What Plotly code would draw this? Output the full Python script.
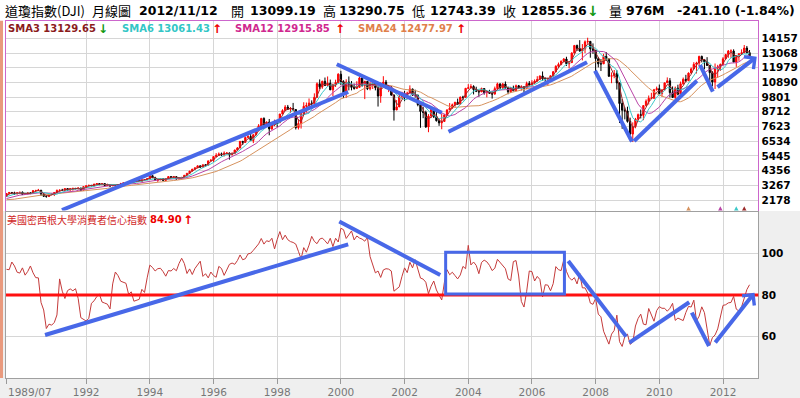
import numpy as np
import pandas as pd
import plotly.graph_objects as go

# ---------------- data ----------------
first_month = "1989/07"
# closes before the first drawn candle (1987/08 .. 1989/06), used only to warm up the SMAs
pre_close = [2663, 2596, 1994, 1834, 1939, 1958, 2072, 1988, 2032, 2031, 2142, 2129,
             2032, 2113, 2149, 2115, 2169, 2342, 2258, 2294, 2419, 2480, 2440]

dji_close = [
    2661, 2737, 2692, 2645, 2706, 2753,
    2591, 2627, 2707, 2657, 2877, 2881, 2905, 2614, 2453, 2442, 2560, 2634,
    2736, 2882, 2914, 2888, 3028, 2907, 3025, 3044, 3017, 3069, 2895, 3169,
    3224, 3268, 3236, 3359, 3397, 3319, 3394, 3257, 3272, 3226, 3305, 3301,
    3310, 3371, 3435, 3428, 3528, 3516, 3540, 3651, 3555, 3681, 3684, 3754,
    3978, 3832, 3636, 3682, 3758, 3625, 3765, 3913, 3843, 3908, 3739, 3834,
    3844, 4011, 4158, 4321, 4465, 4556, 4709, 4611, 4789, 4756, 5075, 5117,
    5395, 5486, 5588, 5569, 5643, 5655, 5529, 5616, 5882, 6029, 6522, 6448,
    6813, 6878, 6584, 7009, 7331, 7673, 8223, 7622, 7945, 7442, 7823, 7908,
    7907, 8546, 8800, 9063, 8900, 8952, 8883, 7539, 7843, 8592, 9117, 9181,
    9359, 9307, 9786, 10789, 10560, 10971, 10655, 10829, 10337, 10730, 10878, 11497,
    10940, 10128, 10922, 10734, 10522, 10448, 10522, 11215, 10651, 10971, 10415, 10787,
    10887, 10495, 9879, 10735, 10912, 10502, 10523, 9950, 8848, 9075, 9852, 10022,
    9920, 10106, 10404, 9946, 9925, 9243, 8737, 8664, 7592, 8397, 8896, 8342,
    8054, 7891, 7992, 8480, 8850, 8985, 9234, 9416, 9275, 9801, 9782, 10454,
    10488, 10584, 10358, 10226, 10188, 10435, 10140, 10174, 10080, 10027, 10428, 10783,
    10490, 10766, 10504, 10193, 10467, 10275, 10641, 10482, 10569, 10440, 10806, 10718,
    10865, 10993, 11109, 11367, 11168, 11150, 11186, 11381, 11679, 12081, 12222, 12463,
    12622, 12269, 12354, 13063, 13628, 13409, 13212, 13358, 13896, 13930, 13372, 13265,
    12650, 12266, 12263, 12820, 12638, 11350, 11378, 11544, 10851, 9325, 8829, 8776,
    8001, 7063, 7609, 8168, 8500, 8447, 9172, 9496, 9712, 9713, 10345, 10428,
    10067, 10325, 10857, 11009, 10137, 9774, 10466, 10015, 10788, 11118, 11006, 11578,
    11892, 12226, 12320, 12811, 12570, 12414, 12143, 11614, 10913, 11955, 12046, 12218,
    12633, 12952, 13212, 13214, 12393, 12880, 13009, 13091, 13437, 13096, 12855.36,
]
dji_high = [
    2670, 2752, 2762, 2791, 2712, 2761,
    2810, 2650, 2740, 2765, 2880, 2935, 3000, 2900, 2660, 2530, 2565, 2660,
    2740, 2960, 2930, 3005, 3030, 3050, 3030, 3060, 3055, 3080, 3065, 3175,
    3270, 3290, 3290, 3370, 3410, 3415, 3420, 3400, 3390, 3290, 3310, 3340,
    3330, 3450, 3490, 3480, 3560, 3560, 3570, 3660, 3650, 3700, 3720, 3800,
    3990, 3990, 3900, 3720, 3780, 3780, 3780, 3930, 3950, 3950, 3900, 3870,
    3900, 4020, 4170, 4330, 4470, 4600, 4730, 4650, 4800, 4790, 5100, 5220,
    5400, 5650, 5700, 5690, 5780, 5720, 5700, 5720, 5900, 6100, 6550, 6560,
    6880, 7080, 7110, 7050, 7390, 7800, 8260, 8300, 8000, 8180, 7880, 8130,
    7980, 8560, 8900, 9210, 9220, 9070, 9370, 8880, 8160, 8650, 9420, 9400,
    9700, 9560, 10080, 10890, 11110, 11010, 11250, 11330, 11100, 10800, 11090, 11570,
    11750, 11050, 11120, 11330, 10990, 10800, 10980, 11330, 11400, 11000, 11000, 10900,
    10990, 10980, 10650, 10900, 11350, 11070, 10700, 10620, 10000, 9580, 9990, 10200,
    10260, 10200, 10670, 10420, 10350, 10000, 9420, 9080, 8800, 8540, 9050, 9040,
    8870, 8170, 8590, 8560, 8900, 9360, 9320, 9450, 9690, 9840, 9900, 10470,
    10760, 10760, 10680, 10570, 10340, 10500, 10430, 10240, 10340, 10240, 10580, 10870,
    10800, 10850, 10960, 10580, 10550, 10650, 10730, 10700, 10680, 10570, 10950, 10990,
    11050, 11110, 11350, 11400, 11700, 11250, 11250, 11400, 11730, 12160, 12360, 12510,
    12690, 12790, 12480, 13120, 13640, 13690, 14020, 13730, 14000, 14200, 13940, 13780,
    13280, 12770, 12620, 13010, 13140, 12660, 11630, 11810, 11790, 10880, 9650, 9030,
    9090, 8280, 7930, 8260, 8580, 8880, 9200, 9630, 9920, 10120, 10410, 10580,
    10730, 10400, 10860, 11260, 11210, 10590, 10580, 10720, 10950, 11250, 11450, 11630,
    11990, 12390, 12420, 12870, 12880, 12620, 12760, 12190, 11720, 12290, 12190, 12290,
    12760, 13000, 13290, 13340, 13340, 12900, 13060, 13340, 13660, 13590, 13290.75,
]
dji_low = [
    2437, 2640, 2660, 2569, 2582, 2685,
    2543, 2560, 2620, 2612, 2650, 2840, 2840, 2480, 2400, 2345, 2420, 2540,
    2470, 2720, 2850, 2860, 2850, 2900, 2910, 2870, 2980, 2950, 2840, 2860,
    3140, 3200, 3200, 3180, 3330, 3280, 3280, 3240, 3250, 3140, 3210, 3260,
    3240, 3290, 3360, 3360, 3430, 3490, 3460, 3540, 3530, 3560, 3630, 3680,
    3750, 3800, 3590, 3520, 3640, 3620, 3620, 3760, 3830, 3780, 3670, 3690,
    3800, 3850, 3990, 4140, 4280, 4420, 4540, 4550, 4610, 4640, 4740, 5050,
    5000, 5360, 5440, 5430, 5400, 5580, 5170, 5500, 5590, 5850, 6010, 6250,
    6430, 6760, 6570, 6390, 6970, 7250, 7600, 7620, 7600, 6970, 7380, 7650,
    7580, 7880, 8530, 8780, 8840, 8630, 8850, 7400, 7400, 7470, 8570, 8650,
    9100, 9100, 9300, 9730, 10400, 10420, 10640, 10590, 10330, 9880, 10550, 10830,
    10700, 9730, 9730, 10300, 10300, 10350, 10400, 10600, 10580, 9650, 10320, 10300,
    10400, 10300, 9100, 9380, 10620, 10400, 10170, 9900, 8060, 8840, 9130, 9690,
    9500, 9640, 10100, 9900, 9760, 9120, 7530, 8240, 7520, 7200, 8250, 8250,
    7990, 7670, 7420, 7990, 8420, 8850, 8950, 9080, 9260, 9360, 9560, 9730,
    10400, 10460, 10000, 10170, 9820, 10190, 9980, 9780, 10040, 9690, 9980, 10390,
    10360, 10370, 10400, 10010, 10100, 10230, 10240, 10400, 10280, 10150, 10390, 10680,
    10660, 10780, 10950, 11100, 11000, 10700, 10680, 11060, 11300, 11650, 11950, 12160,
    12360, 12110, 11930, 12350, 13030, 13220, 13170, 12520, 13060, 13750, 12720, 13000,
    11630, 12000, 11730, 12260, 12480, 11290, 10830, 11200, 10360, 7880, 7450, 8150,
    7910, 7000, 6470, 7490, 8090, 8220, 8090, 9120, 9250, 9670, 9680, 10280,
    10040, 9830, 10320, 10850, 9770, 9740, 9610, 9930, 10010, 10710, 10930, 11000,
    11600, 11930, 11550, 12090, 12370, 11860, 12130, 10600, 10600, 10400, 11230, 11740,
    12210, 12630, 12710, 12710, 12390, 12040, 12490, 12990, 13060, 13040, 12743.39,
]
sentiment = [
    92.3, 92.1, 95.8, 93.9, 90.9, 90.5,
    93.0, 89.5, 91.3, 93.9, 90.6, 88.3, 88.2, 76.4, 72.8, 63.9, 66.0, 65.5,
    66.8, 70.4, 87.7, 81.8, 78.3, 82.1, 82.9, 82.0, 83.0, 78.3, 69.1, 68.2,
    67.5, 68.8, 76.0, 77.2, 79.2, 80.4, 76.6, 76.1, 75.6, 73.3, 85.3, 91.0,
    89.3, 86.6, 85.9, 85.6, 80.3, 81.5, 77.0, 77.3, 77.9, 82.7, 81.2, 88.2,
    94.3, 93.2, 91.5, 92.6, 92.8, 91.2, 89.0, 91.7, 91.5, 92.7, 91.6, 95.1,
    97.6, 95.1, 90.3, 92.5, 89.8, 92.7, 94.4, 96.2, 88.9, 90.2, 88.2, 91.0,
    89.3, 88.5, 93.7, 92.7, 89.4, 92.4, 94.7, 95.3, 94.7, 96.5, 99.2, 96.9,
    97.4, 99.7, 100.0, 101.4, 103.2, 104.5, 107.1, 104.4, 106.0, 105.6, 107.2, 102.1,
    106.6, 110.4, 106.5, 108.7, 106.5, 105.6, 105.2, 104.4, 100.9, 97.4, 102.7, 100.5,
    103.9, 108.1, 105.7, 104.6, 106.8, 107.3, 106.0, 104.5, 107.2, 103.2, 107.2, 105.4,
    112.0, 111.3, 107.1, 109.2, 110.7, 106.4, 108.3, 107.3, 106.8, 105.8, 107.6, 98.4,
    94.7, 90.6, 91.5, 88.4, 92.0, 92.6, 92.4, 91.5, 81.8, 82.7, 83.9, 88.8,
    93.0, 90.7, 95.7, 93.0, 96.9, 92.4, 88.1, 87.6, 86.1, 80.6, 84.2, 86.7,
    82.4, 79.9, 77.6, 86.0, 92.1, 89.7, 90.9, 89.3, 87.7, 89.6, 93.7, 92.6,
    103.8, 94.4, 95.8, 94.2, 90.2, 95.6, 96.7, 95.9, 94.2, 91.7, 92.8, 97.1,
    95.5, 94.1, 92.6, 87.7, 86.9, 96.0, 96.5, 89.1, 76.9, 74.2, 81.6, 91.5,
    91.2, 86.7, 88.9, 87.4, 79.1, 84.9, 84.7, 82.0, 85.4, 93.6, 92.1, 91.7,
    96.9, 91.3, 88.4, 87.1, 88.3, 85.3, 90.4, 83.4, 83.4, 80.9, 76.1, 75.5,
    78.4, 70.8, 69.5, 62.6, 59.8, 56.4, 61.2, 63.0, 70.3, 57.6, 55.3, 60.1,
    61.2, 56.3, 57.3, 65.1, 68.7, 70.8, 66.0, 65.7, 73.5, 70.6, 67.4, 72.5,
    74.4, 73.6, 73.6, 72.2, 73.6, 76.0, 67.8, 68.9, 68.2, 67.7, 71.6, 74.5,
    74.2, 77.5, 67.5, 69.8, 74.3, 71.5, 63.7, 55.8, 59.5, 60.8, 63.7, 69.9,
    75.0, 75.3, 76.2, 76.4, 79.3, 73.2, 72.3, 74.3, 78.3, 82.6, 84.9,
]
x_tick_labels = ["1989/07", "1992", "1994", "1996", "1998", "2000", "2002",
                 "2004", "2006", "2008", "2010", "2012"]
top_tick_values = [2178, 3267, 4356, 5445, 6534, 7623, 8712, 9801, 10890, 11979, 13068, 14157]
low_tick_values = [60, 80, 100]
sentiment_ref_level = 80
sma_periods = [3, 6, 12, 24]
sma_labels = ["SMA3 13129.65", "SMA6 13061.43", "SMA12 12915.85", "SMA24 12477.97"]
sma_arrows = ["↓", "↑", "↑", "↑"]
signal_months = ["2010/12", "2011/12", "2012/06", "2012/09"]
# hand-drawn trend annotations: (year0, value0, year1, value1)
top_trend_lines = [(1991.24, 1437, 2000.23, 10178), (1999.87, 12231, 2003.17, 8645),
                   (2003.38, 7238, 2007.73, 12379), (2007.98, 11756, 2009.14, 6497),
                   (2009.21, 6549, 2011.18, 11016), (2011.28, 12179, 2011.68, 10201)]
top_trend_arrow = (2011.78, 10453, 2013.06, 12794)
low_trend_lines = [(1990.71, 60.8, 2000.23, 104.3), (1999.95, 115.2, 2003.12, 89.6),
                   (2007.14, 96.3, 2008.96, 60.0), (2009.06, 57.1, 2010.94, 76.5),
                   (2011.02, 71.5, 2011.56, 55.5)]
low_trend_box = (2003.29, 80.5, 2007.02, 100.5)
low_trend_arrow = (2011.72, 56.5, 2012.99, 81.1)

# ---------------- helpers ----------------
W, H = 800, 398
n = len(dji_close)
idx = np.arange(n)
y0m = int(first_month[:4]) + (int(first_month[5:]) - 1) / 12.0


def yr2i(yr):
    return (yr - y0m) * 12.0


def lab2i(lab):
    if "/" in lab:
        return yr2i(int(lab[:4]) + (int(lab[5:]) - 1) / 12.0)
    return yr2i(float(lab))


def px(p):
    return p / W


def py(p):
    return 1 - p / H


opens = [pre_close[-1]] + dji_close[:-1]
full = pd.Series(pre_close + dji_close, dtype=float)
smas = [full.rolling(p).mean().iloc[len(pre_close):].to_numpy() for p in sma_periods]

SMA_COLORS = ["#8B1C1C", "#33C6C6", "#D0288F", "#E0804A"]
SMA_LINE = ["#9A2A2A", "#3CC8C8", "#B944A6", "#D6925E"]
BLUE = "#4868E8"
GRID = "#D6D6D6"
GREY_BG = "#EFEFEF"
CJK = "Noto Sans CJK TC"
NUM = "DejaVu Sans"

tick_pos = [lab2i(l) for l in x_tick_labels]
XR = [-0.2, 283.3]

fig = go.Figure()
fig.add_trace(go.Candlestick(
    x=idx, open=opens, high=dji_high, low=dji_low, close=dji_close,
    increasing=dict(line=dict(color="#FF0000", width=1), fillcolor="#FF0000"),
    decreasing=dict(line=dict(color="#000000", width=1), fillcolor="#000000"),
    whiskerwidth=0, xaxis="x", yaxis="y", hoverinfo="skip"))
for s, c in zip(smas[::-1], SMA_LINE[::-1]):
    fig.add_trace(go.Scatter(x=idx, y=s, mode="lines", line=dict(color=c, width=1),
                             xaxis="x", yaxis="y", hoverinfo="skip"))
sig_colors = [SMA_LINE[3], SMA_LINE[2], SMA_LINE[1], SMA_LINE[0]]
fig.add_trace(go.Scatter(x=[lab2i(m) for m in signal_months], y=[1720] * len(signal_months),
                         mode="markers", marker=dict(symbol="arrow-up", size=6, color=sig_colors),
                         xaxis="x", yaxis="y", hoverinfo="skip"))
fig.add_trace(go.Scatter(x=idx, y=sentiment, mode="lines", line=dict(color="#C43A3A", width=1),
                         xaxis="x2", yaxis="y2", hoverinfo="skip"))

shapes = []
# grey surround of lower section (bottom strip, right strip, left strip)
for x0, x1, y0, y1 in [(0, W, 378, H), (758.3, W, 211, 378), (0, 6, 211, 378)]:
    shapes.append(dict(type="rect", xref="paper", yref="paper", x0=px(x0), x1=px(x1),
                       y0=py(y1), y1=py(y0), fillcolor=GREY_BG, line=dict(width=0), layer="below"))
# left salmon edge
shapes.append(dict(type="rect", xref="paper", yref="paper", x0=0, x1=px(3), y0=py(378), y1=py(20.7),
                   fillcolor="#E99A7E", line=dict(width=0), layer="above"))
# reference line at 80
shapes.append(dict(type="line", xref="x2 domain", yref="y2", x0=0, x1=1,
                   y0=sentiment_ref_level, y1=sentiment_ref_level,
                   line=dict(color="#FF1010", width=3)))
for a, b, c, d in top_trend_lines:
    shapes.append(dict(type="line", xref="x", yref="y", x0=yr2i(a), y0=b, x1=yr2i(c), y1=d,
                       line=dict(color=BLUE, width=4)))
for a, b, c, d in low_trend_lines:
    shapes.append(dict(type="line", xref="x2", yref="y2", x0=yr2i(a), y0=b, x1=yr2i(c), y1=d,
                       line=dict(color=BLUE, width=4)))
a, b, c, d = low_trend_box
shapes.append(dict(type="rect", xref="x2", yref="y2", x0=yr2i(a), y0=b, x1=yr2i(c), y1=d,
                   line=dict(color=BLUE, width=3), fillcolor="rgba(0,0,0,0)"))

ann = []
for (a, b, c, d), xr, yr in [(top_trend_arrow, "x", "y"), (low_trend_arrow, "x2", "y2")]:
    ann.append(dict(x=yr2i(c), y=d, ax=yr2i(a), ay=b, xref=xr, yref=yr, axref=xr, ayref=yr,
                    text="", showarrow=True, arrowhead=4, arrowsize=0.75, arrowwidth=4,
                    arrowcolor=BLUE))


def txt(t, x, y, color="#000000", fam=NUM, size=12, bold=False, anchor="left"):
    ann.append(dict(text=("<b>%s</b>" % t) if bold else t, x=px(x), y=py(y), xref="paper",
                    yref="paper", xanchor=anchor, yanchor="middle", showarrow=False,
                    font=dict(family=fam, size=size, color=color)))


# header line
HY = 11
txt("道瓊指數(DJI)", 3, HY, fam=CJK, size=13)
txt("月線圖", 90, HY, fam=CJK, size=13)
txt("2012/11/12", 137, HY, size=12.5, bold=True)
txt("開", 229, HY, fam=CJK, size=13)
txt("13099.19", 248, HY, size=12.5, bold=True)
txt("高", 321, HY, fam=CJK, size=13)
txt("13290.75", 337, HY, size=12.5, bold=True)
txt("低", 410, HY, fam=CJK, size=13)
txt("12743.39", 428, HY, size=12.5, bold=True)
txt("收", 501, HY, fam=CJK, size=13)
txt("12855.36", 519, HY, size=12.5, bold=True)
txt("↓", 585, HY, color="#119911", size=14, bold=True)
txt("量", 607, HY, fam=CJK, size=13)
txt("976M", 624, HY, size=12.5, bold=True)
txt("-241.10 (-1.84%)", 675, HY, size=12.5, bold=True)

# SMA legend row
SY = 28.5
sma_x = [6, 120, 233, 356]
arr_x = [96, 210, 333, 454]
for lab, ar, c, xx, ax_ in zip(sma_labels, sma_arrows, SMA_COLORS, sma_x, arr_x):
    txt(lab, xx, SY, color=c, size=10, bold=True)
    txt(ar, ax_, SY, color="#119911" if ar == "↓" else "#EE0000", size=12, bold=True)

# lower panel label
txt("美國密西根大學消費者信心指數", 5, 219.5, color="#D02828", fam=CJK, size=10)
txt("84.90", 148, 219.5, color="#EE0000", size=10, bold=True)
txt("↑", 181, 219.5, color="#EE0000", size=12, bold=True)
# first x label (left aligned)
txt(x_tick_labels[0], 6, 391.5, color="#777777", size=10.5)

fig.update_layout(
    width=W, height=H, margin=dict(l=0, r=0, t=0, b=0),
    paper_bgcolor="white", plot_bgcolor="white", showlegend=False,
    xaxis=dict(domain=[px(6), px(758.3)], range=XR, anchor="y", tickvals=tick_pos,
               showticklabels=False, ticks="", showgrid=True, gridcolor=GRID, gridwidth=1,
               showline=True, mirror=True, linecolor="#CC66CC", linewidth=1, zeroline=False,
               rangeslider=dict(visible=False), fixedrange=True),
    yaxis=dict(domain=[py(210.5), py(20.7)], range=[1400, 15461], anchor="x", side="right",
               tickvals=top_tick_values, ticktext=["<b>%d</b>" % v for v in top_tick_values],
               tickfont=dict(family=NUM, size=10.5, color="#000000"), ticks="",
               showgrid=True, gridcolor=GRID, showline=True, mirror=True, linecolor="#CC66CC",
               zeroline=False, fixedrange=True),
    xaxis2=dict(domain=[px(6), px(758.3)], range=XR, anchor="y2", tickvals=tick_pos,
                ticktext=[""] + x_tick_labels[1:], ticks="outside", ticklen=5, tickcolor="#999999",
                tickfont=dict(family=NUM, size=10.5, color="#777777"),
                showgrid=True, gridcolor=GRID, showline=True, mirror=True, linecolor="#A0A0A0",
                zeroline=False, fixedrange=True),
    yaxis2=dict(domain=[py(377.7), py(212)], range=[40.3, 119.8], anchor="x2", side="right",
                tickvals=low_tick_values, ticktext=["<b>%d</b>" % v for v in low_tick_values],
                tickfont=dict(family=NUM, size=10.5, color="#000000"), ticks="",
                showgrid=True, gridcolor=GRID, showline=True, mirror=True, linecolor="#A0A0A0",
                zeroline=False, fixedrange=True),
    shapes=shapes, annotations=ann,
)
fig.write_html("out.html", config={"displayModeBar": False},
               post_script="document.body.style.margin='0';document.body.style.padding='0';"
                           "document.body.style.overflow='hidden';")
